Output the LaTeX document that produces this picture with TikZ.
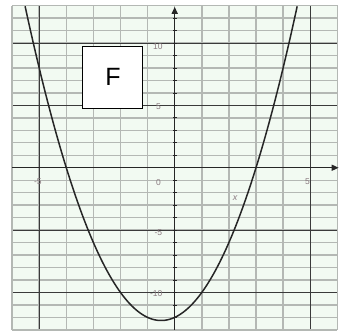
\documentclass[tikz,border=0pt]{standalone}
\usepackage{fontspec}
\setmainfont{Liberation Sans}
\usepackage{tikz}
\usetikzlibrary{arrows.meta,positioning}
\definecolor{paper}{HTML}{F2FAF2}
\definecolor{minorgrid}{HTML}{B4B8B4}
\definecolor{majorgrid}{HTML}{3A3A3A}
\definecolor{tickgray}{HTML}{8A7A80}

\begin{document}
\begin{tikzpicture}[
			x=27.1pt,y=12.47pt,
			minor/.style={minorgrid,line width=1.4pt},
			major/.style={majorgrid,line width=0.8pt},
			axis/.style={-{Triangle[length=7pt,width=6pt]},line width=1.5pt,black!85},
			curve/.style={black!85,line width=1.5pt},
			tick/.style={font=\fontsize{8.5}{8.5}\selectfont,text=tickgray,inner sep=0pt},
			tag/.style={draw=black,line width=1pt,fill=white,minimum width=60pt,minimum height=62pt,font=\fontsize{25}{25}\selectfont}
			]
			\useasboundingbox (-6.446,-13.18) rectangle (6.173,13.45);
			% plot area
			\fill[paper] (-6,-13) rectangle (6,13);
			\foreach \i in {-6,...,6} \draw[minor] (\i,-13) -- (\i,13);
			\foreach \j in {-13,...,13} \draw[minor] (-6,\j) -- (6,\j);
			\foreach \i in {-5,5} \draw[major] (\i,-13) -- (\i,13);
			\foreach \j in {-10,-5,5,10} \draw[major] (-6,\j) -- (6,\j);
			\draw[minorgrid,line width=0.8pt] (-6,-13) rectangle (6,13);
			% axes
			\coordinate (xs) at (-6,0);
			\coordinate (xe) at (6.05,0);
			\coordinate (ys) at (0,-13);
			\coordinate (ye) at (0,12.9);
			\draw[axis] (xs) -- (xe);
			\draw[axis] (ys) -- (ye);
			\foreach \j in {-12,...,12} \draw[black!85,line width=0.8pt] (-0.07,\j) -- (0.07,\j);
			% labels
			\node[tick] (y10) at (-0.62,9.75) {10};
			\node[tick] (y5) at (-0.6,4.9) {5};
			\node[tick] (o) at (-0.6,-1.15) {0};
			\node[tick] (ym5) at (-0.6,-5.2) {-5};
			\node[tick] (ym10) at (-0.68,-10.1) {-10};
			\node[tick] (xm5) at (-5.05,-1.15) {-5};
			\node[tick] (x5) at (4.9,-1.15) {5};
			\node[tick,font=\fontsize{9}{9}\selectfont\itshape] (xl) at (2.23,-2.4) {x};
			% parabola
			\draw[curve] plot[domain=-5.52:4.52,samples=120] (\x,{\x*\x+\x-12});
			% tag
			\node[tag] (f) at (-2.28,7.26) {F};
		\end{tikzpicture}
\end{document}
